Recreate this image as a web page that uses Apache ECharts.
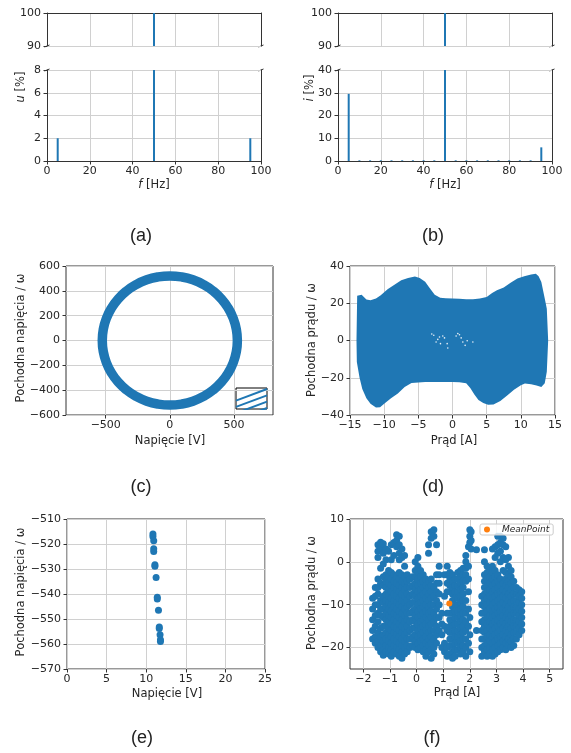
<!DOCTYPE html>
<html>
<head>
<meta charset="utf-8">
<script src="https://cdn.jsdelivr.net/npm/echarts@6/dist/echarts.min.js"></script>
<style>
html,body{margin:0;padding:0;background:#fff;}
#main{width:571px;height:753px;}
</style>
</head>
<body>
<div id="main"></div>
<script>
// (a) widmo napiecia
var freqU = [5, 50, 95];
var ampU = [2, 100, 2];
// (b) widmo pradu
var freqI = [5, 10, 15, 20, 25, 30, 35, 40, 45, 50, 55, 60, 65, 70, 75, 80, 85, 90, 95];
var ampI = [29.5, 0.3, 0.3, 0.3, 0.3, 0.3, 0.3, 0.3, 0.3, 100, 0.3, 0.3, 0.3, 0.3, 0.3, 0.3, 0.3, 0.3, 6];
// (c) trajektoria napiecia (linia srodkowa pierscienia, co 10 stopni)
var ringU  = [527, 519, 495, 456, 404, 339, 264, 180, 92, 0, -92, -180, -264, -339, -404, -456, -495, -519,
              -527, -519, -495, -456, -404, -339, -264, -180, -92, 0, 92, 180, 264, 339, 404, 456, 495, 519, 527];
var ringDU = [0, 90, 178, 260, 334, 398, 450, 489, 512, 520, 512, 489, 450, 398, 334, 260, 178, 90,
              0, -90, -178, -260, -334, -398, -450, -489, -512, -520, -512, -489, -450, -398, -334, -260, -178, -90, 0];
// (c) powiekszenie
var insetX = [0, 1];
var insetOffsets = [-0.5, -0.2, 0.1, 0.4];
var insetSlope = 0.55;
// (d) obwiednia chmury pradu
var dUpperX = [-14.05, -13.95, -13.3, -12.6, -12.0, -11.2, -10.5, -9.5, -8.5, -7.5, -6.5, -5.5, -4.8, -4.0, -3.4, -2.6, -1.8, -1, 0, 1, 2, 3, 4, 5, 5.8, 6.5, 7.5, 8.5, 9.5, 10.5, 11.5, 12.2, 12.6, 13.0, 13.5, 13.8, 14.0];
var dUpperY = [0, 24, 24.5, 22, 21.6, 22.5, 24.3, 27.5, 30, 32.3, 33.5, 34.3, 33.6, 31.5, 28.5, 24.5, 23, 22.7, 22.5, 22.4, 22.1, 22.2, 22.6, 23.4, 25.5, 27, 28.5, 31, 33.3, 34.5, 35.5, 35.9, 34.5, 31.4, 22.5, 17, 0];
var dLowerX = [-14.05, -14.0, -13.6, -13.2, -12.6, -12.0, -11.2, -10.6, -10.0, -9.0, -8.0, -7.0, -6.0, -5.0, -4.0, -3.0, -2, -1, 0, 1, 2, 2.6, 3.2, 3.8, 4.5, 5.2, 6, 7, 8, 9, 10, 10.6, 11.5, 12.3, 13.0, 13.5, 13.8, 14.0];
var dLowerY = [0, -11.5, -20, -26, -31, -34, -36, -35.8, -34, -31, -28.5, -25, -22.8, -22.5, -22.3, -22.3, -22.3, -22.3, -22.3, -22.4, -23, -25.5, -29, -32, -33.5, -34.5, -34.3, -32.5, -29.5, -26.5, -24, -23.1, -23.5, -24.2, -25, -23, -16.8, 0];
// (d) puste miejsca w srodku chmury
var dHoleX = [-3.03, -2.74, -2.4, -2.15, -1.9, -1.42, -1.17, -0.78, -1.76, -0.69, 0.53, 0.78, 1.02, 1.27, 1.51, 1.85, 2.15, 2.98];
var dHoleY = [3.5, 2.8, -0.8, 0.6, 1.9, 2.4, 1.4, -1.7, -1.7, -4.0, 2.4, 3.7, 3.1, 1.4, -0.8, -2.6, -0.1, -0.8];
// (e) punkty
var eU  = [10.85, 10.85, 10.95, 10.95, 10.95, 11.1, 11.1, 11.25, 11.4, 11.4, 11.55, 11.65, 11.65, 11.75, 11.8, 11.8];
var eDU = [-516, -517, -518.7, -521.9, -523, -528.3, -528.9, -533.4, -541.3, -542, -546.5, -553.2, -553.8, -556.3, -558.3, -559];
// (f) punkty, kolumnami
var fColX = [-1.65, -1.55, -1.45, -1.35, -1.25, -1.15, -1.05, -0.95, -0.85, -0.75, -0.65, -0.55, -0.45, -0.35, -0.25, -0.15, -0.05,
             0.05, 0.15, 0.25, 0.35, 0.45, 0.55, 0.65, 0.75, 0.85, 0.95, 1.05, 1.15, 1.25, 1.35, 1.45, 1.55, 1.65, 1.75, 1.85, 1.95,
             2.0, 2.05, 2.25, 2.45, 2.55, 2.65, 2.75, 2.85, 2.95, 3.05, 3.15, 3.25, 3.35, 3.45, 3.55, 3.65, 3.75, 3.85, 3.95];
var fColY = [
  [-8.5, -11, -13.5, -16, -18],
  [-6, -8, -10, -12.5, -15, -17.5, -19],
  [4, 2.5, 1, -4, -6, -7.5, -10, -12, -14, -16.5, -18.5, -20],
  [4.6, 3.2, -1.5, -5, -9, -11, -12.5, -15.5, -17.5, -19.5, -21],
  [4.2, 2, -0.5, -3.5, -5.5, -8, -9.5, -11, -13, -15, -17, -18.5, -20.5, -21.8],
  [3, 0.5, -3, -4.5, -6, -7.5, -9, -10.5, -12, -13.5, -15, -16.5, -18, -19.5, -21],
  [2.5, -2, -3.5, -5, -6.5, -8, -9.5, -11, -12.5, -14, -15.5, -17, -18.5, -20, -21.5],
  [4, 0.5, -2.5, -4, -5.5, -7, -8.5, -10, -11.5, -13, -14.5, -16, -17.5, -19, -20.5, -22],
  [4.5, 1.5, -3, -4.5, -6, -7.5, -9, -10.5, -12, -13.5, -15, -16.5, -18, -19.5, -21],
  [6.3, 5, 3.5, -3.5, -5, -6.5, -8, -9.5, -11, -12.5, -14, -15.5, -17, -18.5, -20, -21.5],
  [6, 4, 2, 0.5, -2.5, -4, -5.5, -7, -8.5, -10, -11.5, -13, -14.5, -16, -17.5, -19, -20.5, -22],
  [3, 1, -3, -4.5, -6, -7.5, -9, -10.5, -12, -13.5, -15, -16.5, -18, -19.5, -21, -22.5],
  [1.5, -1, -3.5, -5, -6.5, -8, -9.5, -11, -12.5, -14, -15.5, -17, -18.5, -20, -21.5],
  [-3, -4.5, -6, -7.5, -9, -10.5, -12, -13.5, -15, -16.5, -18, -19.5, -21],
  [-4, -6, -8, -10, -12, -14, -16, -18, -20],
  [-3.5, -5.5, -7.5, -9.5, -11.5, -13.5, -15.5, -17.5, -19.5],
  [0, -2, -3.5, -5, -6.5, -8, -9.5, -11, -12.5, -14, -15.5, -17, -18.5, -20],
  [1, -1, -2.5, -4, -5.5, -7, -8.5, -10, -11.5, -13, -14.5, -16, -17.5, -19, -20.5],
  [-2, -3.5, -5, -6.5, -8, -9.5, -11, -12.5, -14, -15.5, -17, -18.5, -20],
  [-3, -4.5, -6, -7.5, -9, -10.5, -12, -13.5, -15, -16.5, -18, -19.5, -21],
  [-4, -5.5, -7, -8.5, -10, -11.5, -13, -14.5, -16, -17.5, -19, -20.5, -22],
  [4, 2, -4.5, -6, -7.5, -9, -10.5, -12, -13.5, -15, -16.5, -18, -19.5, -21],
  [7, 5.5, -4, -5.5, -7, -8.5, -10, -11.5, -13, -14.5, -16, -17.5, -19, -20.5, -22.5],
  [7.5, 6, -6, -8, -10, -12, -14, -16, -18, -20, -21.5],
  [4, -3, -5, -7, -9, -11, -13, -15, -17, -19],
  [-1, -3, -5, -7.5, -10, -13, -16],
  [-12, -14.5, -17, -20],
  [-3, -8, -15, -19, -21],
  [-1, -3, -5, -7, -12, -16, -20, -22],
  [-2.5, -4, -5.5, -7, -12, -13.5, -15, -16.5, -18, -19.5, -21.5],
  [-3, -4.5, -6, -7.5, -9, -10.5, -12, -13.5, -15, -16.5, -18, -19.5, -21, -22.5],
  [-4, -5.5, -7, -8.5, -10, -11.5, -13, -14.5, -16, -17.5, -19, -20.5, -22],
  [-2.5, -4, -5.5, -7, -8.5, -10, -11.5, -13, -14.5, -16, -17.5, -19, -20.5],
  [-2, -3.5, -5, -6.5, -8, -9.5, -11, -12.5, -14, -15.5, -17, -18.5, -20, -21.5],
  [-1.5, -3, -4.5, -6, -7.5, -9, -10.5, -12, -13.5, -15, -16.5, -18, -19.5, -21],
  [1.5, 0, -1.5, -3, -4.5, -9, -12, -14, -16, -18, -20, -22],
  [3.5, -1, -4, -7, -11, -15, -19],
  [7.5, 6, 4.5, -13, -17, -21],
  [7, 5, 3],
  [2.8, -16],
  [-8, -10, -12, -14, -16, -18, -20, -22],
  [2.8, 0, -3, -4.5, -6, -7.5, -9, -10.5, -12, -13.5, -15, -16.5, -18, -19.5, -21],
  [-1, -2.5, -4, -5.5, -7, -8.5, -10, -11.5, -13, -14.5, -16, -17.5, -19, -20.5, -22],
  [-2, -3.5, -5, -6.5, -8, -9.5, -11, -12.5, -14, -15.5, -17, -18.5, -20, -21.5],
  [3, -1, -2.5, -4, -5.5, -7, -8.5, -10, -11.5, -13, -14.5, -16, -17.5, -19, -20.5, -22],
  [3.5, 1, -2, -3.5, -5, -6.5, -8, -9.5, -11, -12.5, -14, -15.5, -17, -18.5, -20, -21.5],
  [6, 4, 2, -3, -4.5, -6, -7.5, -9, -10.5, -12, -13.5, -15, -16.5, -18, -19.5, -21],
  [6, 4.5, 2.5, 0, -4, -5.5, -7, -8.5, -10, -11.5, -13, -14.5, -16, -17.5, -19, -20.5],
  [5.5, 4, 1, -2, -5, -6.5, -8, -9.5, -11, -12.5, -14, -15.5, -17, -18.5, -20],
  [3.5, 0.5, -2.5, -4, -5.5, -7, -8.5, -10, -11.5, -13, -14.5, -16, -17.5, -19, -20.5],
  [1, -1, -3, -4.5, -6, -7.5, -9, -10.5, -12, -13.5, -15, -16.5, -18, -19.5],
  [-2, -3.5, -5, -6.5, -8, -9.5, -11, -12.5, -14, -15.5, -17, -18.5, -20],
  [-4.5, -6, -7.5, -9, -10.5, -12, -13.5, -15, -16.5, -18, -19.5],
  [-6, -7.5, -9, -10.5, -12, -13.5, -15, -16.5, -18],
  [-6.5, -8, -9.5, -11, -12.5, -14, -15.5, -17],
  [-7, -8.5, -10, -11.5, -13, -14.5, -16]
];
var meanPoint = [1.23, -9.7];

var blue = '#1f77b4';
var orange = '#ff7f0e';
var spineCol = '#333333';
var gridCol = '#d0d0d0';
var txtCol = '#262626';
var FONT = 'DejaVu Sans';

function minus(v) { return String(v).replace('-', '\u2212'); }
function pairs(xs, ys) { return xs.map(function (x, i) { return [x, ys[i]]; }); }

function ax(o) {
  var a = {
    type: 'value', gridIndex: o.grid, min: o.min, max: o.max,
    axisLine: { show: false, onZero: false, lineStyle: { color: spineCol, width: 1 } },
    axisTick: { show: true, length: 3.5, lineStyle: { color: spineCol } },
    axisLabel: { show: true, margin: 5, color: txtCol, fontSize: 11, fontFamily: FONT, formatter: minus },
    splitLine: { show: true, lineStyle: { color: gridCol, width: 1 } }
  };
  if (o.interval != null) a.interval = o.interval;
  if (o.position) a.position = o.position;
  if (o.line) a.axisLine.show = true;
  if (o.noTick) a.axisTick.show = false;
  if (o.noLabel) a.axisLabel.show = false;
  if (o.noSplit) a.splitLine.show = false;
  if (o.margin != null) a.axisLabel.margin = o.margin;
  if (o.custom) {
    a.axisTick.customValues = o.custom;
    a.axisLabel.customValues = o.custom;
  }
  return a;
}

var grids = [
  { left: 47, top: 13, width: 214, height: 33 },
  { left: 47, top: 70, width: 214, height: 91 },
  { left: 338, top: 13, width: 214, height: 33 },
  { left: 338, top: 70, width: 214, height: 91 },
  { left: 66, top: 266, width: 207, height: 149, show: true, borderColor: spineCol, borderWidth: 1 },
  { left: 236, top: 388, width: 31, height: 21, show: true, borderColor: '#000', borderWidth: 1, backgroundColor: '#fff' },
  { left: 350, top: 266, width: 205, height: 149, show: true, borderColor: spineCol, borderWidth: 1 },
  { left: 67, top: 519, width: 198, height: 150, show: true, borderColor: spineCol, borderWidth: 1 },
  { left: 350, top: 519, width: 213, height: 150, show: true, borderColor: spineCol, borderWidth: 1 }
];

var xAxes = [
  ax({ grid: 0, min: 0, max: 100, interval: 20, position: 'top', line: true, noTick: true, noLabel: true }),
  ax({ grid: 1, min: 0, max: 100, interval: 20, position: 'bottom', line: true }),
  ax({ grid: 2, min: 0, max: 100, interval: 20, position: 'top', line: true, noTick: true, noLabel: true }),
  ax({ grid: 3, min: 0, max: 100, interval: 20, position: 'bottom', line: true }),
  ax({ grid: 4, min: -810, max: 805, custom: [-500, 0, 500] }),
  ax({ grid: 5, min: 0, max: 1, noTick: true, noLabel: true, noSplit: true }),
  ax({ grid: 6, min: -15, max: 15, interval: 5 }),
  ax({ grid: 7, min: 0, max: 25, interval: 5 }),
  ax({ grid: 8, min: -2.5, max: 5.5, custom: [-2, -1, 0, 1, 2, 3, 4, 5] })
];

var yAxes = [
  ax({ grid: 0, min: 90, max: 100, interval: 10, position: 'left', line: true, margin: 6 }),
  ax({ grid: 0, min: 90, max: 100, interval: 10, position: 'right', line: true, noTick: true, noLabel: true, noSplit: true }),
  ax({ grid: 1, min: 0, max: 8, interval: 2, position: 'left', line: true, margin: 6 }),
  ax({ grid: 1, min: 0, max: 8, interval: 2, position: 'right', line: true, noTick: true, noLabel: true, noSplit: true }),
  ax({ grid: 2, min: 90, max: 100, interval: 10, position: 'left', line: true, margin: 6 }),
  ax({ grid: 2, min: 90, max: 100, interval: 10, position: 'right', line: true, noTick: true, noLabel: true, noSplit: true }),
  ax({ grid: 3, min: 0, max: 40, interval: 10, position: 'left', line: true, margin: 6 }),
  ax({ grid: 3, min: 0, max: 40, interval: 10, position: 'right', line: true, noTick: true, noLabel: true, noSplit: true }),
  ax({ grid: 4, min: -600, max: 600, interval: 200, margin: 6 }),
  ax({ grid: 5, min: 0, max: 1, noTick: true, noLabel: true, noSplit: true }),
  ax({ grid: 6, min: -40, max: 40, interval: 20, margin: 6 }),
  ax({ grid: 7, min: -570, max: -510, interval: 10, margin: 6 }),
  ax({ grid: 8, min: -25, max: 10, custom: [-20, -10, 0, 10], margin: 6 })
];

var fPoints = [];
fColX.forEach(function (x, i) {
  fColY[i].forEach(function (y) { fPoints.push([x, y]); });
});

var series = [
  { type: 'bar', xAxisIndex: 0, yAxisIndex: 0, barWidth: 2, itemStyle: { color: blue }, data: pairs(freqU, ampU), silent: true },
  { type: 'bar', xAxisIndex: 1, yAxisIndex: 2, barWidth: 2, itemStyle: { color: blue }, data: pairs(freqU, ampU), silent: true },
  { type: 'bar', xAxisIndex: 2, yAxisIndex: 4, barWidth: 2, itemStyle: { color: blue }, data: pairs(freqI, ampI), silent: true },
  { type: 'bar', xAxisIndex: 3, yAxisIndex: 6, barWidth: 2, itemStyle: { color: blue }, data: pairs(freqI, ampI), silent: true },
  { type: 'line', xAxisIndex: 4, yAxisIndex: 8, smooth: true, showSymbol: false, lineStyle: { color: blue, width: 9.5 }, data: pairs(ringU, ringDU), silent: true },
  {
    type: 'custom', coordinateSystem: 'cartesian2d', xAxisIndex: 6, yAxisIndex: 10, data: [[0, 0]], silent: true,
    renderItem: function (params, api) {
      var pts = [];
      for (var i = 0; i < dUpperX.length; i++) pts.push(api.coord([dUpperX[i], dUpperY[i]]));
      for (var j = dLowerX.length - 1; j >= 0; j--) pts.push(api.coord([dLowerX[j], dLowerY[j]]));
      return { type: 'polygon', shape: { points: pts }, style: { fill: blue } };
    }
  },
  { type: 'scatter', xAxisIndex: 6, yAxisIndex: 10, symbolSize: 1.6, itemStyle: { color: '#e8f0f7', opacity: 1 }, data: pairs(dHoleX, dHoleY), silent: true, z: 3 },
  { type: 'scatter', xAxisIndex: 7, yAxisIndex: 11, symbolSize: 7, itemStyle: { color: blue, opacity: 1 }, data: pairs(eU, eDU), silent: true },
  { type: 'scatter', xAxisIndex: 8, yAxisIndex: 12, symbolSize: 7, itemStyle: { color: blue, opacity: 1 }, data: fPoints, silent: true },
  { type: 'scatter', name: 'MeanPoint', xAxisIndex: 8, yAxisIndex: 12, symbolSize: 6, itemStyle: { color: orange, opacity: 1 }, data: [meanPoint], silent: true, z: 5 }
];

insetOffsets.forEach(function (c) {
  series.push({
    type: 'line', xAxisIndex: 5, yAxisIndex: 9, showSymbol: false, silent: true,
    lineStyle: { color: blue, width: 2 },
    data: insetX.map(function (x) { return [x, c + insetSlope * x]; })
  });
});

function label(x, y, text, rot, rich) {
  var st = { text: text, fontSize: 11.5, fontFamily: FONT, fill: txtCol, align: 'center', verticalAlign: 'middle' };
  if (rich) st.rich = { it: { fontStyle: 'italic', fontSize: 11.5, fontFamily: FONT, fill: txtCol } };
  return { type: 'text', x: x, y: y, rotation: rot ? Math.PI / 2 : 0, style: st, silent: true };
}
function caption(x, y, text) {
  return { type: 'text', x: x, y: y, style: { text: text, fontSize: 18, fontFamily: 'Liberation Sans', fill: '#222', align: 'center', verticalAlign: 'middle' }, silent: true };
}
// znaczniki przerwania osi
function brk(x, y) {
  return { type: 'line', shape: { x1: x - 2.5, y1: y + 1, x2: x + 2.5, y2: y - 1 }, style: { stroke: spineCol, lineWidth: 1 }, silent: true };
}

var graphics = [
  label(154, 185, '{it|f} [Hz]', false, true),
  label(21, 87, '{it|u} [%]', true, true),
  label(445, 185, '{it|f} [Hz]', false, true),
  label(310, 88, '{it|i} [%]', true, true),
  label(170, 441, 'Napięcie [V]'),
  label(21, 338, 'Pochodna napięcia / ω', true),
  label(454, 441, 'Prąd [A]'),
  label(312, 340, 'Pochodna prądu / ω', true),
  label(167, 694, 'Napięcie [V]'),
  label(21, 592, 'Pochodna napięcia / ω', true),
  label(457, 693, 'Prąd [A]'),
  label(312, 593, 'Pochodna prądu / ω', true),
  caption(141, 236, '(a)'),
  caption(433, 236, '(b)'),
  caption(141, 487, '(c)'),
  caption(433, 487, '(d)'),
  caption(142, 738, '(e)'),
  caption(432, 738, '(f)'),
  brk(47, 46), brk(261, 46), brk(47, 70), brk(261, 70),
  brk(338, 46), brk(552, 46), brk(338, 70), brk(552, 70)
];

var chart = echarts.init(document.getElementById('main'), null, { renderer: 'canvas' });
chart.setOption({
  animation: false,
  backgroundColor: '#fff',
  grid: grids,
  xAxis: xAxes,
  yAxis: yAxes,
  legend: {
    data: ['MeanPoint'], left: 480, top: 524, icon: 'circle', itemWidth: 20, itemHeight: 6,
    padding: [1, 4, 1, 4], borderColor: '#cccccc', borderWidth: 1, borderRadius: 2,
    backgroundColor: 'rgba(255,255,255,0.8)',
    textStyle: { fontStyle: 'italic', fontSize: 9, fontFamily: FONT, color: txtCol }
  },
  series: series,
  graphic: graphics
});
</script>
</body>
</html>
